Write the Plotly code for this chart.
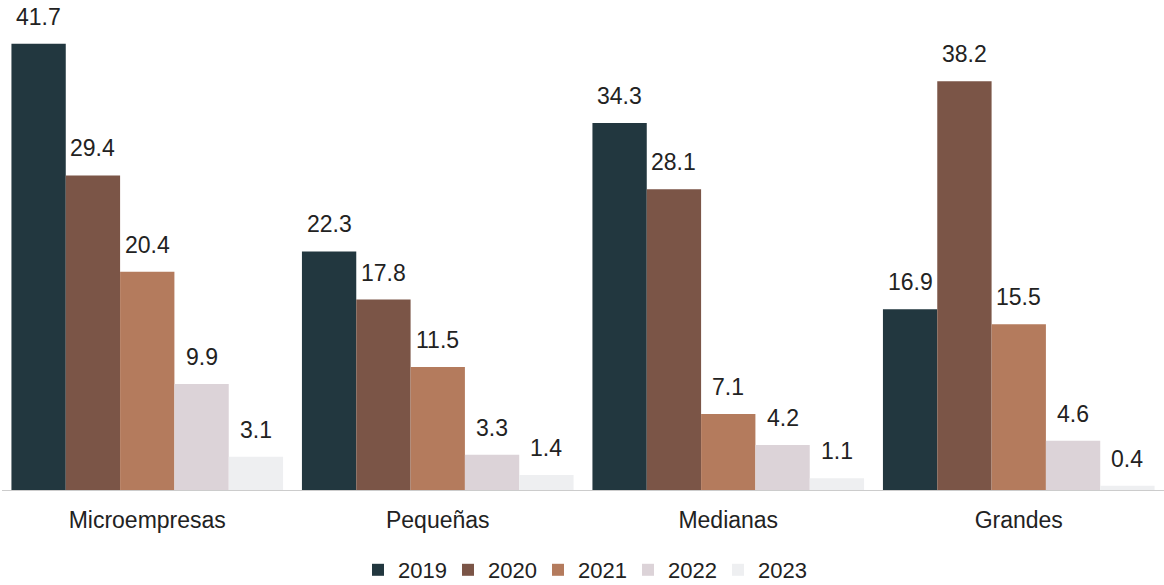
import plotly.graph_objects as go

categories = ["Microempresas", "Pequeñas", "Medianas", "Grandes"]
years = ["2019", "2020", "2021", "2022", "2023"]
values_2019 = [41.7, 22.3, 34.3, 16.9]
values_2020 = [29.4, 17.8, 28.1, 38.2]
values_2021 = [20.4, 11.5, 7.1, 15.5]
values_2022 = [9.9, 3.3, 4.2, 4.6]
values_2023 = [3.1, 1.4, 1.1, 0.4]
colors = ["#22373f", "#7b5547", "#b47b5d", "#dcd3d8", "#eeeff1"]

series = [values_2019, values_2020, values_2021, values_2022, values_2023]

FONT = "Liberation Sans, Arial, Helvetica, sans-serif"
BARGAP = 0.065
n = len(series)
bar_w = (1 - BARGAP) / n  # width of one bar in category units

fig = go.Figure()
for i, (year, vals, col) in enumerate(zip(years, series, colors)):
    fig.add_trace(go.Bar(
        name=year,
        x=list(range(len(categories))),
        y=vals,
        marker=dict(color=col, line=dict(width=0)),
    ))
    # value labels centred above each bar
    offset = (i - (n - 1) / 2) * bar_w
    for j, v in enumerate(vals):
        fig.add_annotation(
            x=j + offset, y=v, xref="x", yref="y",
            text=f"{v:.1f}", showarrow=False,
            yanchor="middle", yshift=27,
            font=dict(family=FONT, size=23, color="#222222"),
        )

fig.update_layout(
    barmode="group",
    bargap=BARGAP,
    bargroupgap=0,
    width=1164,
    height=585,
    margin=dict(l=2, r=0, t=0, b=95, autoexpand=False),
    paper_bgcolor="white",
    plot_bgcolor="white",
    font=dict(family=FONT, size=23, color="#222222"),
    legend=dict(
        orientation="h",
        x=0.5, xanchor="center", xref="paper",
        y=15 / 585, yanchor="middle", yref="container",
        font=dict(family=FONT, size=22, color="#222222"),
        itemwidth=30,
        entrywidth=45,
        traceorder="normal",
    ),
    xaxis=dict(
        tickmode="array",
        tickvals=list(range(len(categories))),
        ticktext=categories,
        range=[-0.5, len(categories) - 0.5],
        showline=True, linecolor="#cccccc", linewidth=1,
        ticks="", showgrid=False, zeroline=False,
        automargin=False,
        ticklabelstandoff=9,
        tickfont=dict(family=FONT, size=23, color="#222222"),
    ),
    yaxis=dict(
        range=[0, 45.8], visible=False, showgrid=False,
    ),
)

fig.write_html("out.html")
